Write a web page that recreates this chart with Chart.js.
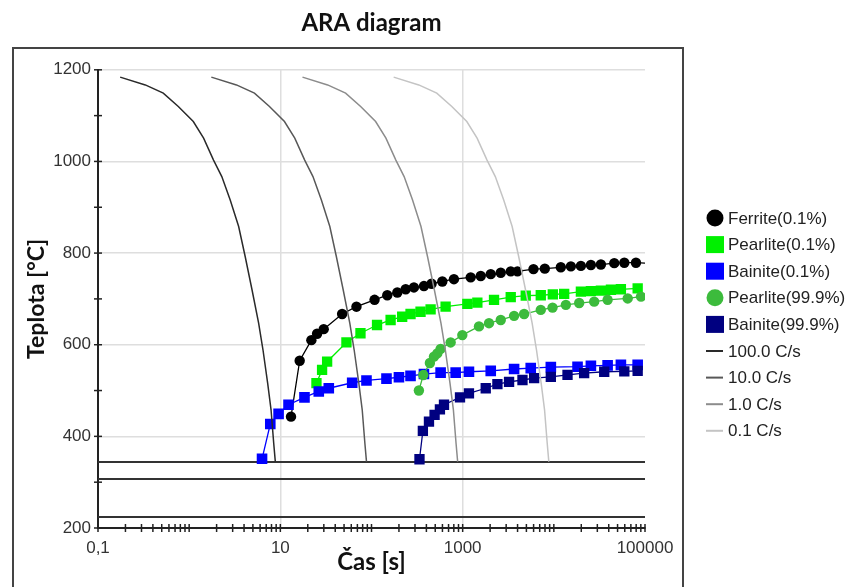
<!DOCTYPE html>
<html>
<head>
<meta charset="utf-8">
<script src="https://cdn.jsdelivr.net/npm/chart.js@4.4.1/dist/chart.umd.min.js"></script>
<style>
  html, body { margin: 0; padding: 0; background: #fff; }
  #wrap { position: relative; width: 853px; height: 587px; overflow: hidden; }
  #frame { position: absolute; left: 12px; top: 47px; width: 668px; height: 580px; border: 2px solid #444; }
  canvas { position: absolute; left: 0; top: 0; }
</style>
</head>
<body>
<div id="wrap">
  <div id="frame"></div>
  <canvas id="chart" width="853" height="587"></canvas>
</div>
<script>
// --- data (time in s, temperature in °C) ---
const ferriteT = [13.1, 16.3, 21.9, 25.3, 29.9, 47.6, 68.4, 108, 149, 192, 237, 292, 376, 456, 598, 802, 1225, 1578, 2032, 2617, 3367, 3990, 5980, 7960, 11930, 15380, 19810, 25500, 32830, 46000, 59300, 79600, 100000];
const ferriteY = [443, 565, 610, 624, 634, 667, 683, 698, 708, 714, 721, 725, 728, 733, 738, 743, 747, 750, 754, 757, 760, 760, 765, 766, 769, 771, 772, 774, 775, 778, 779, 779, 778];

const pearlite1T = [24.9, 28.7, 32.6, 53.1, 75.7, 115, 162, 217, 268, 345, 445, 650, 1125, 1449, 2208, 3367, 4920, 7190, 9750, 12980, 19810, 25500, 32830, 42300, 54400, 83100];
const pearlite1Y = [516, 545, 563, 605, 625, 643, 654, 661, 667, 672, 677, 683, 689, 692, 698, 704, 707, 708, 710, 711, 716, 717, 718, 720, 721, 723];

const bainite1T = [6.3, 7.76, 9.57, 12.3, 18.4, 26.4, 34.0, 61.4, 88.1, 146, 200, 268, 376, 573, 838, 1172, 2032, 3665, 5580, 9270, 18200, 25500, 38900, 54400, 83100];
const bainite1Y = [351, 427, 449, 469, 485, 498, 505, 517, 522, 526, 529, 532, 536, 539, 539, 541, 543, 547, 549, 551, 552, 554, 555, 556, 556];

const pearlite99T = [331, 370, 437, 484, 527, 573, 738, 991, 1510, 1945, 2617, 3665, 4720, 7190, 9680, 13550, 18970, 27700, 38900, 64600, 90400];
const pearlite99Y = [500, 534, 560, 574, 581, 591, 605, 621, 640, 647, 654, 663, 667, 676, 681, 687, 691, 694, 698, 701, 705];

const bainite99T = [336, 366, 427, 492, 563, 624, 935, 1172, 1791, 2405, 3228, 4530, 6080, 9270, 14130, 21500, 35700, 59300, 83100];
const bainite99Y = [350, 412, 432, 447, 459, 469, 485, 494, 505, 514, 519, 523, 527, 530, 534, 538, 541, 542, 543];

// cooling curves: common temperatures, times for each rate
const coolY = [1184, 1167, 1149, 1120, 1087, 1051, 1003, 967, 916, 858, 792, 720, 647, 589, 516, 458, 385, 345];
const cool100T = [0.175, 0.33, 0.52, 0.76, 1.11, 1.44, 1.85, 2.28, 2.82, 3.49, 4.12, 4.89, 5.78, 6.45, 7.26, 7.91, 8.46, 8.81];
const cool10T = [1.75, 3.3, 5.2, 7.6, 11.1, 14.4, 18.5, 22.8, 28.2, 34.9, 41.2, 48.9, 57.8, 64.5, 72.6, 79.1, 84.6, 88.1];
const cool1T = [17.5, 33, 52, 76, 111, 144, 185, 228, 282, 349, 412, 489, 578, 645, 726, 791, 846, 881];
const cool01T = [175, 330, 520, 760, 1110, 1440, 1850, 2280, 2820, 3490, 4120, 4890, 5780, 6450, 7260, 7910, 8460, 8810];

// horizontal martensite lines
const msTemps = [344, 307, 224];
const timeRange = [0.1, 100000];

// axis ticks
const xLabelValues = [0.1, 10, 1000, 100000];
const xLabelTexts = ['0,1', '10', '1000', '100000'];
const xDecades = [0.1, 1, 10, 100, 1000, 10000];
const xGridValues = [10, 1000];

function pts(xs, ys) {
    return xs.map((x, i) => ({ x: x, y: ys[i] }));
}

function markerSet(label, xs, ys, color, style, radius, order, lastBare) {
    return {
        label: label,
        data: pts(xs, ys),
        showLine: true,
        borderColor: color,
        backgroundColor: color,
        borderWidth: 1.3,
        pointStyle: style,
        pointRadius: ctx => (lastBare && ctx.dataIndex === xs.length - 1) ? 0 : radius,
        pointBorderWidth: 0,
        order: order
    };
}

function coolSet(label, xs, color) {
    return {
        label: label,
        data: pts(xs, coolY),
        showLine: true,
        borderColor: color,
        backgroundColor: color,
        borderWidth: 1.5,
        pointRadius: 0,
        pointStyle: 'line',
        order: 1
    };
}

const datasets = [
    markerSet('Ferrite(0.1%)', ferriteT, ferriteY, '#000000', 'circle', 5.2, 6, true),
    markerSet('Pearlite(0.1%)', pearlite1T, pearlite1Y, '#00f000', 'rect', 7.3, 5),
    markerSet('Bainite(0.1%)', bainite1T, bainite1Y, '#0000ff', 'rect', 7.5, 4),
    markerSet('Pearlite(99.9%)', pearlite99T, pearlite99Y, '#3cbb3c', 'circle', 5.2, 3),
    markerSet('Bainite(99.9%)', bainite99T, bainite99Y, '#000080', 'rect', 7.3, 2),
    coolSet('100.0 C/s', cool100T, '#2a2a2a'),
    coolSet('10.0 C/s', cool10T, '#585858'),
    coolSet('1.0 C/s', cool1T, '#8c8c8c'),
    coolSet('0.1 C/s', cool01T, '#c4c4c4')
];

msTemps.forEach(t => {
    datasets.push({
        label: '',
        noLegend: true,
        data: pts(timeRange, [t, t]),
        showLine: true,
        borderColor: '#333333',
        borderWidth: 2,
        pointRadius: 0,
        order: 7
    });
});

// small tick marks crossing both axes
const axisTicks = {
    id: 'axisTicks',
    afterDraw(chart) {
        const { ctx, chartArea, scales } = chart;
        ctx.save();
        ctx.strokeStyle = '#222';
        ctx.lineWidth = 1.5;
        scales.x.ticks.forEach(t => {
            const px = scales.x.getPixelForValue(t.value);
            ctx.beginPath();
            ctx.moveTo(px, chartArea.bottom - 4);
            ctx.lineTo(px, chartArea.bottom + 4);
            ctx.stroke();
        });
        scales.y.ticks.forEach(t => {
            const py = scales.y.getPixelForValue(t.value);
            ctx.beginPath();
            ctx.moveTo(chartArea.left - 4, py);
            ctx.lineTo(chartArea.left + 4, py);
            ctx.stroke();
        });
        ctx.restore();
    }
};

// legend on the right side
const sideLegend = {
    id: 'sideLegend',
    afterDraw(chart) {
        const ctx = chart.ctx;
        const items = chart.data.datasets.filter(d => !d.noLegend);
        const x0 = 715, y0 = 218, step = 26.6;
        ctx.save();
        ctx.font = '17px "Liberation Sans", Arial, sans-serif';
        ctx.textBaseline = 'middle';
        ctx.textAlign = 'left';
        items.forEach((d, i) => {
            const y = y0 + i * step;
            ctx.fillStyle = d.backgroundColor;
            ctx.strokeStyle = d.borderColor;
            if (d.pointStyle === 'circle') {
                ctx.beginPath();
                ctx.arc(x0, y, 8.5, 0, Math.PI * 2);
                ctx.fill();
            } else if (d.pointStyle === 'rect') {
                ctx.fillRect(x0 - 9, y - 8.5, 18, 17);
            } else {
                ctx.lineWidth = 2;
                ctx.beginPath();
                ctx.moveTo(x0 - 9, y);
                ctx.lineTo(x0 + 8, y);
                ctx.stroke();
            }
            ctx.fillStyle = '#222';
            ctx.fillText(d.label, x0 + 13, y + 1);
        });
        ctx.restore();
    }
};

new Chart(document.getElementById('chart'), {
    type: 'scatter',
    data: { datasets: datasets },
    options: {
        responsive: false,
        animation: false,
        layout: { padding: { left: 14, right: 208, top: 0, bottom: 0 } },
        plugins: {
            legend: { display: false },
            tooltip: { enabled: false },
            title: {
                display: true,
                text: 'ARA diagram',
                fullSize: false,
                color: '#111',
                font: { family: 'Lato', size: 24, weight: 'bold' },
                padding: { top: 9, bottom: 32 }
            }
        },
        scales: {
            x: {
                type: 'logarithmic',
                min: 0.1,
                max: 100000,
                afterBuildTicks: function(scale) {
                    const ticks = [];
                    xDecades.forEach(d => {
                        for (let k = 1; k <= 9; k++) ticks.push({ value: k * d });
                    });
                    ticks.push({ value: 100000 });
                    scale.ticks = ticks;
                },
                afterFit: function(scale) { scale.height = 59; },
                ticks: {
                    autoSkip: false,
                    maxRotation: 0,
                    padding: 10,
                    color: '#333',
                    font: { family: '"Liberation Sans", Arial', size: 17 },
                    callback: function(value) {
                        const i = xLabelValues.findIndex(v => Math.abs(v - value) < 1e-9);
                        return i >= 0 ? xLabelTexts[i] : '';
                    }
                },
                grid: {
                    drawTicks: false,
                    lineWidth: 1.5,
                    color: ctx => xGridValues.includes(ctx.tick.value) ? '#dedede' : 'rgba(0,0,0,0)'
                },
                border: { color: '#222', width: 2 },
                title: {
                    display: true,
                    text: 'Čas [s]',
                    color: '#111',
                    font: { family: 'Lato', size: 24, weight: 'bold' },
                    padding: { top: 0, bottom: 10 }
                }
            },
            y: {
                min: 200,
                max: 1200,
                afterFit: function(scale) { scale.width = 84; },
                ticks: {
                    stepSize: 100,
                    padding: 7,
                    color: '#333',
                    font: { family: '"Liberation Sans", Arial', size: 17 },
                    callback: function(value) { return value % 200 === 0 ? String(value) : ''; }
                },
                grid: {
                    drawTicks: false,
                    lineWidth: 1.5,
                    color: ctx => ctx.tick.value % 200 === 0 ? '#dedede' : 'rgba(0,0,0,0)'
                },
                border: { color: '#222', width: 2 },
                title: {
                    display: true,
                    text: 'Teplota [°C]',
                    color: '#111',
                    font: { family: 'Lato', size: 23, weight: 'bold' },
                    padding: { top: 9, bottom: 0 }
                }
            }
        }
    },
    plugins: [axisTicks, sideLegend]
});
</script>
</body>
</html>
